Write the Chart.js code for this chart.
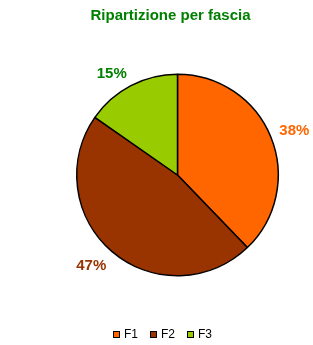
<!DOCTYPE html>
<html>
<head>
<meta charset="utf-8">
<script src="https://cdn.jsdelivr.net/npm/chart.js@4.4.1/dist/chart.umd.min.js"></script>
<style>
  html, body { margin: 0; padding: 0; background: #ffffff; }
  #wrap { width: 313px; height: 345px; position: relative; }
</style>
</head>
<body>
<div id="wrap"><canvas id="c" width="313" height="345"></canvas></div>
<script>
const titleText = 'Ripartizione per fascia';
const categories = ['F1', 'F2', 'F3'];
const values = [37.8, 46.9, 15.3];
const sliceColors = ['#FF6600', '#993300', '#99CC00'];
const labelColors = ['#FF6600', '#993300', '#008000'];
const FONT = 'Arial, "Liberation Sans", Helvetica, sans-serif';

const outsideLabels = {
  id: 'outsideLabels',
  afterDatasetsDraw(chart) {
    const ctx = chart.ctx;
    const meta = chart.getDatasetMeta(0);
    const data = chart.data.datasets[0].data;
    const total = data.reduce((a, b) => a + b, 0);
    ctx.save();
    ctx.font = 'bold 15px ' + FONT;
    ctx.textAlign = 'center';
    ctx.textBaseline = 'middle';
    meta.data.forEach((arc, i) => {
      const p = arc.getProps(['x', 'y', 'startAngle', 'endAngle', 'outerRadius'], true);
      const mid = (p.startAngle + p.endAngle) / 2;
      const txt = Math.round(data[i] / total * 100) + '%';
      const w = ctx.measureText(txt).width;
      const h = 11;
      const r = p.outerRadius + 9;
      const dx = Math.cos(mid), dy = Math.sin(mid);
      const x = p.x + dx * r + Math.sign(dx) * w / 2;
      const y = p.y + dy * r + Math.sign(dy) * h / 2 + 2;
      ctx.fillStyle = labelColors[i];
      ctx.fillText(txt, x, y);
    });
    ctx.restore();
  }
};

const titleAndLegend = {
  id: 'titleAndLegend',
  afterDraw(chart) {
    const ctx = chart.ctx;
    ctx.save();
    ctx.font = 'bold 15px ' + FONT;
    ctx.fillStyle = '#008000';
    ctx.textAlign = 'center';
    ctx.textBaseline = 'alphabetic';
    ctx.fillText(titleText, 170.5, 20);
    ctx.font = '12px ' + FONT;
    const box = 7, gap = 4, spacing = 12;
    const widths = categories.map(c => box + gap + ctx.measureText(c).width);
    const total = widths.reduce((a, b) => a + b, 0) + spacing * (categories.length - 1);
    let x = Math.round(162.5 - total / 2);
    const cy = 334.5;
    ctx.textAlign = 'left';
    ctx.textBaseline = 'middle';
    categories.forEach((c, i) => {
      ctx.fillStyle = sliceColors[i];
      ctx.fillRect(x + 0.5, Math.round(cy - box / 2) + 0.5, box - 1, box - 1);
      ctx.strokeStyle = '#000';
      ctx.lineWidth = 1;
      ctx.strokeRect(x + 0.5, Math.round(cy - box / 2) + 0.5, box - 1, box - 1);
      ctx.fillStyle = '#000';
      ctx.fillText(c, x + box + gap, cy);
      x += widths[i] + spacing;
    });
    ctx.restore();
  }
};

new Chart(document.getElementById('c'), {
  type: 'pie',
  data: {
    labels: categories,
    datasets: [{
      data: values,
      backgroundColor: sliceColors,
      borderColor: '#000000',
      borderWidth: 1.5
    }]
  },
  options: {
    responsive: false,
    animation: false,
    events: [],
    layout: { padding: { left: 76, right: 34, top: 73, bottom: 68 } },
    plugins: {
      legend: { display: false },
      title: { display: false },
      tooltip: { enabled: false }
    }
  },
  plugins: [outsideLabels, titleAndLegend]
});
</script>
</body>
</html>
